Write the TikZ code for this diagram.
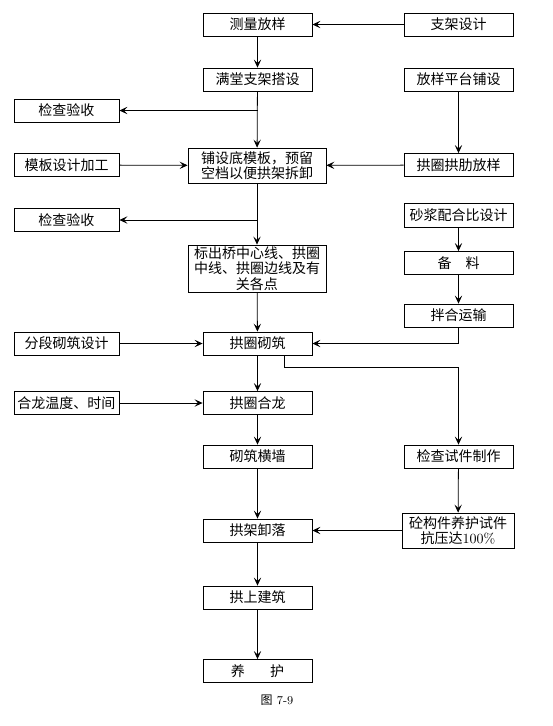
\documentclass[tikz,border=0pt]{standalone}
\usepackage{fontspec}
\newfontfamily\cjk{Noto Sans CJK SC}
\usetikzlibrary{arrows.meta}

\begin{document}
\begin{tikzpicture}[x=0.75pt, y=-0.75pt, thick,
		>={Stealth[length=6pt, width=5.5pt, inset=2.5pt]},
		box/.style={draw, line width=0.6pt, minimum width=81.75pt, minimum height=17.25pt,
			inner sep=1pt, align=center, font=\cjk\fontsize{10.5}{11.5}\selectfont},
		sidebox/.style={box, minimum width=78.75pt},
		line/.style={draw, line width=0.6pt}]
	
	\useasboundingbox (0,0) rectangle (553,726);
	
	% --- 1. 主线 ---
	\node[box] (clfy) at (257.5, 24.5) {测量放样};
	\node[box] (mtzj) at (257.5, 79.5) {满堂支架搭设};
	\node[box, minimum width=103.5pt, minimum height=26.25pt] (pdmb) at (257, 165.5) {铺设底模板，预留\\空档以便拱架拆卸};
	\node[box, minimum width=103.5pt, minimum height=35.25pt] (bczx) at (257, 268.5) {标出桥中心线、拱圈\\中线、拱圈边线及有\\关各点};
	\node[box] (gqqz) at (257.5, 343.5) {拱圈砌筑};
	\node[box] (gqhl) at (257.5, 403) {拱圈合龙};
	\node[box] (qzhq) at (257.5, 456.5) {砌筑横墙};
	\node[box] (gjxl) at (257.5, 530.5) {拱架卸落};
	\node[box] (gsjz) at (257.5, 597.5) {拱上建筑};
	\node[box] (yanghu) at (257.5, 671) {养\hspace{1.8em}护};
	
	% --- 2. 左侧 ---
	\node[sidebox] (jcys1) at (66.5, 110.5) {检查验收};
	\node[sidebox] (mbsj) at (66.5, 165) {模板设计加工};
	\node[sidebox] (jcys2) at (66.5, 220) {检查验收};
	\node[sidebox] (fdqz) at (66.5, 343.5) {分段砌筑设计};
	\node[sidebox] (hlwd) at (66.5, 403) {合龙温度、时间};
	
	% --- 3. 右侧 ---
	\node[box] (zjsj) at (458.5, 24.5) {支架设计};
	\node[box] (fypt) at (458.5, 79.5) {放样平台铺设};
	\node[box] (gqfy) at (458.5, 165) {拱圈拱肋放样};
	\node[box, minimum height=18pt] (sjpb) at (458.5, 215) {砂浆配合比设计};
	\node[box] (beiliao) at (458.5, 263) {备\quad 料};
	\node[box] (bhys) at (458.5, 315.5) {拌合运输};
	\node[box] (jcsz) at (458.5, 456.5) {检查试件制作};
	\node[box, minimum width=84pt, minimum height=26.25pt] (tgjy) at (458, 530.5) {砼构件养护试件\\抗压达{\rmfamily 100\%}};
	
	% 图号
	\node[font=\small] (tuhao) at (277, 700) {{\cjk 图} 7-9};
	
	% --- 4. 连线 ---
	\draw[line, ->] (zjsj) -- (clfy);
	\draw[line, ->] (clfy) -- (mtzj);
	\draw[line, ->] (mtzj) -- (pdmb);
	\draw[line, ->] (mtzj.south |- jcys1) -- (jcys1);
	\draw[line, ->] (mbsj) -- (pdmb);
	\draw[line, ->] (fypt) -- (gqfy);
	\draw[line, ->] (gqfy) -- (pdmb);
	\draw[line, ->] (pdmb) -- (bczx);
	\draw[line, ->] (pdmb.south |- jcys2) -- (jcys2);
	\draw[line, ->] (bczx) -- (gqqz);
	\draw[line, ->] (fdqz) -- (gqqz);
	\draw[line, ->] (sjpb) -- (beiliao);
	\draw[line, ->] (beiliao) -- (bhys);
	\draw[line, ->] (bhys.south) |- (gqqz.east);
	\draw[line, ->] ([xshift=20pt]gqqz.south) -- ++(0,12) -| (jcsz.north);
	\draw[line, ->] (gqqz) -- (gqhl);
	\draw[line, ->] (hlwd) -- (gqhl);
	\draw[line, ->] (gqhl) -- (qzhq);
	\draw[line, ->] (qzhq) -- (gjxl);
	\draw[line, ->] (jcsz) -- (tgjy);
	\draw[line, ->] (tgjy) -- (gjxl);
	\draw[line, ->] (gjxl) -- (gsjz);
	\draw[line, ->] (gsjz) -- (yanghu);
	
\end{tikzpicture}
\end{document}
